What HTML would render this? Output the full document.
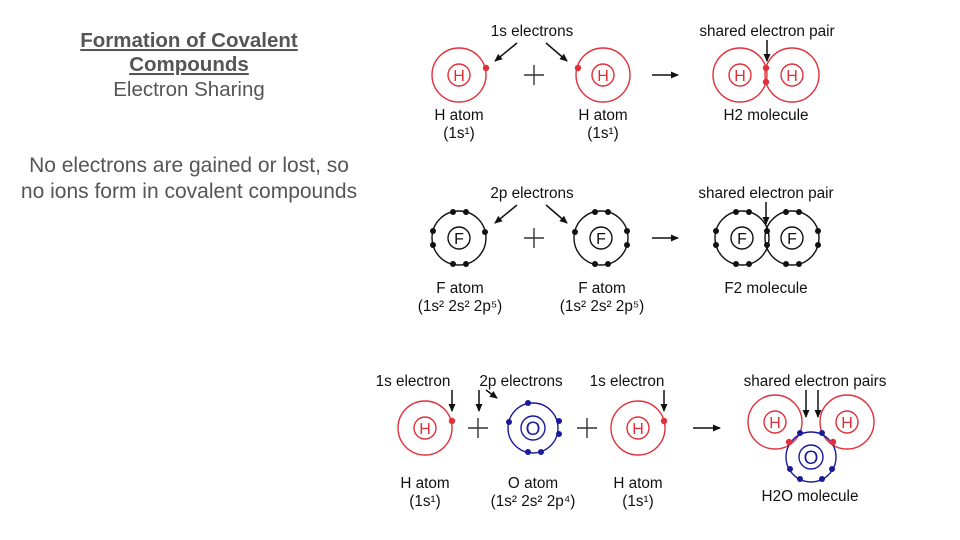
<!DOCTYPE html>
<html><head><meta charset="utf-8"><style>
html,body{margin:0;padding:0;background:#fff;}
svg{display:block;font-family:"Liberation Sans",Arial,sans-serif;}
.t{fill:#555;font-size:20.5px;text-anchor:middle;}
.p{fill:#555;font-size:21px;text-anchor:middle;}
.l{font-size:15.3px;fill:#111;text-anchor:middle;}
.r{fill:none;stroke:#e0303a;stroke-width:1.4}
.b{fill:none;stroke:#1a1a9a;stroke-width:1.4}
.k{fill:none;stroke:#111;stroke-width:1.4}
.ar{stroke:#111;stroke-width:1.5;marker-end:url(#a);fill:none}
.pl{stroke:#333;stroke-width:1.4;fill:none}
</style></head><body>
<svg width="960" height="540" viewBox="0 0 960 540">
<defs><marker id="a" markerWidth="8" markerHeight="8" refX="7" refY="4" orient="auto" markerUnits="userSpaceOnUse"><path d="M0,0.5 L8,4 L0,7.5 z" fill="#111"/></marker></defs>
<text class="t" x="189" y="47" font-weight="bold" text-decoration="underline">Formation of Covalent</text>
<text class="t" x="189" y="71" font-weight="bold" text-decoration="underline">Compounds</text>
<text class="t" x="189" y="96">Electron Sharing</text>
<text class="p" x="189" y="172">No electrons are gained or lost, so</text>
<text class="p" x="189" y="198">no ions form in covalent compounds</text>

<!-- Row 1 -->
<text class="l" x="532" y="36">1s electrons</text>
<path class="ar" d="M517,43 L495,61"/><path class="ar" d="M546,43 L567,61"/>
<circle class="r" cx="459" cy="75" r="27"/><circle class="r" cx="459" cy="75" r="11"/>
<text x="459" y="81" font-size="16" fill="#e0303a" text-anchor="middle">H</text>
<circle cx="486" cy="68" r="3.2" fill="#e0303a"/>
<path class="pl" d="M524,75 H544 M534,65 V85"/>
<circle class="r" cx="603" cy="75" r="27"/><circle class="r" cx="603" cy="75" r="11"/>
<text x="603" y="81" font-size="16" fill="#e0303a" text-anchor="middle">H</text>
<circle cx="578" cy="68" r="3.2" fill="#e0303a"/>
<path class="ar" d="M652,75 L678,75"/>
<circle class="r" cx="740" cy="75" r="27"/><circle class="r" cx="740" cy="75" r="11"/>
<circle class="r" cx="792" cy="75" r="27"/><circle class="r" cx="792" cy="75" r="11"/>
<text x="740" y="81" font-size="16" fill="#e0303a" text-anchor="middle">H</text>
<text x="792" y="81" font-size="16" fill="#e0303a" text-anchor="middle">H</text>
<circle cx="766" cy="68" r="3.2" fill="#e0303a"/><circle cx="766" cy="82" r="3.2" fill="#e0303a"/>
<text class="l" x="767" y="36">shared electron pair</text>
<path class="ar" d="M767,40 L767,61"/>
<text class="l" x="459" y="120">H atom</text><text class="l" x="459" y="138">(1s¹)</text>
<text class="l" x="603" y="120">H atom</text><text class="l" x="603" y="138">(1s¹)</text>
<text class="l" x="766" y="120">H2 molecule</text>

<!-- Row 2 -->
<text class="l" x="532" y="198">2p electrons</text>
<path class="ar" d="M517,205 L495,223"/><path class="ar" d="M546,205 L567,223"/>
<g fill="#111">
<circle class="k" cx="459" cy="238" r="27"/><circle class="k" cx="459" cy="238" r="11"/>
<text x="459" y="244" font-size="16" text-anchor="middle">F</text>
<circle cx="453" cy="212" r="3"/><circle cx="466" cy="212" r="3"/><circle cx="453" cy="264" r="3"/><circle cx="466" cy="264" r="3"/>
<circle cx="433" cy="231" r="3"/><circle cx="433" cy="245" r="3"/><circle cx="485" cy="232" r="3"/>
<circle class="k" cx="601" cy="238" r="27"/><circle class="k" cx="601" cy="238" r="11"/>
<text x="601" y="244" font-size="16" text-anchor="middle">F</text>
<circle cx="595" cy="212" r="3"/><circle cx="608" cy="212" r="3"/><circle cx="595" cy="264" r="3"/><circle cx="608" cy="264" r="3"/>
<circle cx="627" cy="231" r="3"/><circle cx="627" cy="245" r="3"/><circle cx="575" cy="232" r="3"/>
<circle class="k" cx="742" cy="238" r="27"/><circle class="k" cx="742" cy="238" r="11"/>
<circle class="k" cx="792" cy="238" r="27"/><circle class="k" cx="792" cy="238" r="11"/>
<text x="742" y="244" font-size="16" text-anchor="middle">F</text>
<text x="792" y="244" font-size="16" text-anchor="middle">F</text>
<circle cx="736" cy="212" r="3"/><circle cx="749" cy="212" r="3"/><circle cx="736" cy="264" r="3"/><circle cx="749" cy="264" r="3"/>
<circle cx="786" cy="212" r="3"/><circle cx="799" cy="212" r="3"/><circle cx="786" cy="264" r="3"/><circle cx="799" cy="264" r="3"/>
<circle cx="716" cy="231" r="3"/><circle cx="716" cy="245" r="3"/><circle cx="818" cy="231" r="3"/><circle cx="818" cy="245" r="3"/>
<circle cx="767" cy="231" r="3"/><circle cx="767" cy="245" r="3"/>
</g>
<path class="pl" d="M524,238 H544 M534,228 V248"/>
<path class="ar" d="M652,238 L678,238"/>
<text class="l" x="766" y="198">shared electron pair</text>
<path class="ar" d="M766,202 L766,224"/>
<text class="l" x="460" y="293">F atom</text><text class="l" x="460" y="311">(1s² 2s² 2p⁵)</text>
<text class="l" x="602" y="293">F atom</text><text class="l" x="602" y="311">(1s² 2s² 2p⁵)</text>
<text class="l" x="766" y="293">F2 molecule</text>

<!-- Row 3 -->
<text class="l" x="413" y="386">1s electron</text>
<text class="l" x="521" y="386">2p electrons</text>
<text class="l" x="627" y="386">1s electron</text>
<text class="l" x="815" y="386">shared electron pairs</text>
<path class="ar" d="M452,390 L452,411"/>
<path class="ar" d="M479,390 L479,411"/>
<path class="ar" d="M486,390 L497,398"/>
<path class="ar" d="M664,390 L664,411"/>
<path class="ar" d="M806,390 L806,417"/>
<path class="ar" d="M818,390 L818,417"/>
<circle class="r" cx="425" cy="428" r="27"/><circle class="r" cx="425" cy="428" r="11"/>
<text x="425" y="434" font-size="16" fill="#e0303a" text-anchor="middle">H</text>
<circle cx="452" cy="421" r="3.2" fill="#e0303a"/>
<path class="pl" d="M468,428 H488 M478,418 V438"/>
<circle class="b" cx="533" cy="428" r="25"/><circle class="b" cx="533" cy="428" r="12"/>
<text x="533" y="435" font-size="19" fill="#1a1a9a" text-anchor="middle">O</text>
<g fill="#1a1a9a"><circle cx="528" cy="403" r="3"/><circle cx="509" cy="422" r="3"/><circle cx="559" cy="421" r="3"/><circle cx="559" cy="434" r="3"/><circle cx="528" cy="452" r="3"/><circle cx="541" cy="452" r="3"/></g>
<path class="pl" d="M577,428 H597 M587,418 V438"/>
<circle class="r" cx="638" cy="428" r="27"/><circle class="r" cx="638" cy="428" r="11"/>
<text x="638" y="434" font-size="16" fill="#e0303a" text-anchor="middle">H</text>
<circle cx="664" cy="421" r="3.2" fill="#e0303a"/>
<path class="ar" d="M693,428 L720,428"/>
<circle class="r" cx="775" cy="422" r="27"/><circle class="r" cx="775" cy="422" r="11"/>
<circle class="r" cx="847" cy="422" r="27"/><circle class="r" cx="847" cy="422" r="11"/>
<text x="775" y="428" font-size="16" fill="#e0303a" text-anchor="middle">H</text>
<text x="847" y="428" font-size="16" fill="#e0303a" text-anchor="middle">H</text>
<circle class="b" cx="811" cy="457" r="25"/><circle class="b" cx="811" cy="457" r="12"/>
<text x="811" y="464" font-size="19" fill="#1a1a9a" text-anchor="middle">O</text>
<g fill="#1a1a9a"><circle cx="800" cy="433" r="3"/><circle cx="822" cy="433" r="3"/><circle cx="790" cy="469" r="3"/><circle cx="832" cy="469" r="3"/><circle cx="800" cy="479" r="3"/><circle cx="822" cy="479" r="3"/></g>
<circle cx="789" cy="442" r="3.2" fill="#e0303a"/><circle cx="833" cy="442" r="3.2" fill="#e0303a"/>
<text class="l" x="425" y="488">H atom</text><text class="l" x="425" y="506">(1s¹)</text>
<text class="l" x="533" y="488">O atom</text><text class="l" x="533" y="506">(1s² 2s² 2p⁴)</text>
<text class="l" x="638" y="488">H atom</text><text class="l" x="638" y="506">(1s¹)</text>
<text class="l" x="810" y="501">H2O molecule</text>
</svg>
</body></html>
